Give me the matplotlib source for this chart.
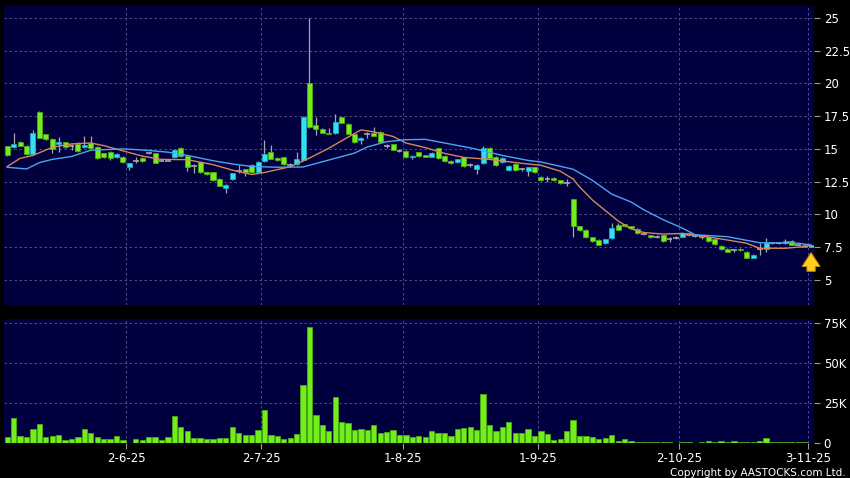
import matplotlib
matplotlib.use("Agg")
import matplotlib.pyplot as plt
import numpy as np

# daily candles, 6 May 2025 .. 3 Nov 2025 (trading-day index 0..125)
opens = [15.2, 15.15, 15.55, 15.25, 14.6, 17.85, 16.1, 15.75, 15.35, 15.5,
         15.2, 15.35, 15.15, 15.45, 15.15, 14.65, 14.8, 14.35, 14.4, 13.6,
         14.1, 14.3, 14.65, 14.65, 14.1, 14.1, 14.35, 15.1, 14.45, 13.7,
         14.0, 13.2, 13.2, 12.7, 12.0, 12.7, 13.35, 13.45, 13.8, 13.25,
         14.05, 14.8, 14.3, 14.35, 13.8, 13.85, 14.15, 20.05, 16.8, 16.5,
         16.25, 16.2, 17.4, 16.9, 16.1, 15.65, 16.1, 16.2, 16.3, 15.25,
         15.35, 14.85, 14.85, 14.35, 14.75, 14.5, 14.4, 15.05, 14.45, 14.1,
         14.0, 14.35, 13.8, 13.5, 13.9, 15.1, 14.4, 14.0, 13.4, 13.85,
         13.45, 13.35, 13.6, 12.85, 12.7, 12.8, 12.6, 12.4, 11.15, 9.1,
         8.85, 8.25, 8.05, 7.8, 8.2, 9.2, 9.25, 9.1, 8.9, 8.5,
         8.4, 8.3, 8.4, 8.15, 8.2, 8.3, 8.55, 8.35, 8.25, 8.3,
         8.15, 7.6, 7.4, 7.25, 7.4, 7.15, 6.7, 7.35, 7.4, 7.8,
         7.8, 7.8, 7.95, 7.65, 7.7, 7.52]
highs = [15.25, 16.2, 15.6, 15.3, 16.45, 17.9, 16.15, 15.8, 15.9, 15.55,
         15.4, 15.55, 15.95, 15.95, 15.2, 14.7, 14.85, 14.65, 14.45, 13.95,
         14.35, 14.35, 14.7, 14.7, 14.2, 14.15, 15.0, 15.15, 14.5, 13.85,
         14.05, 13.25, 13.25, 12.75, 12.3, 13.15, 13.75, 13.5, 13.85, 14.05,
         15.7, 15.3, 14.35, 14.4, 13.95, 14.8, 17.5, 24.95, 17.45, 16.6,
         16.6, 17.7, 17.45, 16.95, 16.15, 15.9, 16.3, 16.7, 16.35, 15.4,
         15.4, 15.0, 14.9, 14.5, 14.8, 14.55, 14.75, 15.1, 14.5, 14.15,
         14.25, 14.4, 13.9, 13.85, 15.25, 15.15, 14.45, 14.35, 13.75, 13.9,
         13.55, 13.65, 13.65, 12.9, 12.95, 12.85, 12.65, 12.7, 11.2, 9.15,
         8.9, 8.3, 8.1, 8.15, 9.35, 9.35, 9.3, 9.15, 8.95, 8.6,
         8.45, 8.4, 8.45, 8.3, 8.35, 8.65, 8.6, 8.45, 8.35, 8.35,
         8.2, 7.65, 7.45, 7.35, 7.45, 7.2, 6.95, 7.8, 8.2, 7.85,
         7.85, 8.1, 8.05, 7.7, 7.75, 7.7]
lows = [14.45, 15.1, 15.2, 14.55, 14.55, 15.8, 15.7, 14.7, 14.8, 15.05,
        14.9, 14.8, 15.1, 15.0, 14.2, 14.3, 14.15, 14.3, 13.95, 13.4,
        13.9, 14.0, 14.6, 13.9, 14.05, 14.05, 14.3, 14.4, 13.35, 13.15,
        13.15, 13.0, 12.55, 12.2, 11.65, 12.65, 13.15, 12.9, 13.15, 13.2,
        14.0, 14.2, 14.1, 13.8, 13.7, 13.8, 14.1, 16.6, 16.05, 16.2,
        16.1, 16.15, 16.95, 16.1, 15.45, 15.4, 15.85, 15.95, 15.45, 15.1,
        14.9, 14.75, 14.3, 14.2, 14.4, 14.35, 14.35, 14.25, 14.0, 13.85,
        13.95, 13.65, 13.6, 13.1, 13.85, 14.25, 13.7, 13.95, 13.35, 13.35,
        13.35, 12.9, 13.15, 12.55, 12.5, 12.55, 12.35, 12.15, 8.3, 8.75,
        8.2, 7.9, 7.65, 7.75, 8.15, 8.8, 9.05, 8.9, 8.5, 8.4,
        8.2, 8.2, 7.9, 7.9, 8.1, 8.25, 8.35, 8.25, 8.15, 7.9,
        7.7, 7.3, 7.1, 7.15, 7.2, 6.65, 6.65, 6.9, 7.1, 7.75,
        7.75, 7.75, 7.65, 7.6, 7.5, 7.5]
closes = [14.5, 15.4, 15.25, 14.6, 16.25, 15.85, 15.75, 15.0, 15.55, 15.15,
          15.2, 14.85, 15.3, 15.05, 14.3, 14.35, 14.3, 14.6, 14.0, 13.9,
          14.1, 14.05, 14.65, 13.95, 14.1, 14.1, 14.95, 14.45, 13.6, 13.7,
          13.2, 13.05, 12.6, 12.2, 12.25, 13.15, 13.35, 13.2, 13.2, 14.0,
          14.6, 14.2, 14.15, 13.85, 13.8, 14.2, 17.45, 16.7, 16.5, 16.25,
          16.15, 17.05, 17.0, 16.15, 15.5, 15.85, 16.1, 16.0, 15.5, 15.25,
          14.95, 14.85, 14.35, 14.45, 14.45, 14.4, 14.7, 14.3, 14.05, 13.9,
          14.2, 13.7, 13.8, 13.8, 15.05, 14.3, 13.75, 14.3, 13.7, 13.4,
          13.45, 13.6, 13.2, 12.6, 12.7, 12.6, 12.4, 12.4, 9.1, 8.8,
          8.25, 7.95, 7.7, 8.1, 9.0, 8.85, 9.1, 8.95, 8.55, 8.5,
          8.25, 8.3, 7.95, 8.15, 8.2, 8.55, 8.4, 8.35, 8.25, 7.95,
          7.75, 7.35, 7.15, 7.25, 7.25, 6.7, 6.9, 7.35, 7.8, 7.8,
          7.8, 7.95, 7.7, 7.65, 7.52, 7.68]
volume_k = [3.5, 15.4, 4.3, 3.5, 8.5, 11.8, 3.7, 4.5, 5.3, 2.0,
            2.4, 4.0, 9.0, 6.1, 4.0, 2.4, 2.4, 4.3, 2.0, 0.3,
            2.8, 1.8, 3.5, 3.9, 1.8, 3.5, 16.9, 10.2, 7.7, 3.3,
            3.3, 2.8, 2.8, 3.3, 3.3, 10.0, 6.1, 5.3, 4.7, 8.3,
            20.9, 4.9, 4.5, 2.8, 3.3, 5.7, 36.4, 72.2, 17.7, 11.2,
            7.7, 28.5, 13.0, 12.4, 8.1, 8.7, 8.1, 11.0, 6.1, 6.9,
            7.9, 5.1, 5.1, 4.0, 4.5, 4.0, 7.5, 6.2, 6.2, 4.2,
            9.0, 9.4, 10.0, 7.9, 30.4, 11.5, 7.5, 9.8, 13.1, 6.5,
            6.5, 8.5, 4.4, 7.5, 5.8, 2.1, 2.7, 7.3, 14.4, 4.2,
            4.6, 4.0, 2.7, 3.3, 5.0, 1.5, 2.3, 1.5, 0.8, 0.8,
            0.6, 0.6, 0.6, 0.4, 0.2, 0.6, 0.4, 0.2, 0.4, 1.0,
            0.8, 1.0, 0.8, 1.0, 0.4, 0.6, 0.6, 1.5, 2.9, 0.8,
            0.6, 0.6, 0.6, 0.4, 0.6, 0.1]

# moving averages (index, value)
ma10_idx = [0, 2, 4, 7, 10, 13, 15, 18, 21, 24, 28, 32, 35, 38, 40, 42, 44, 47,
            50, 53, 55, 57, 60, 62, 65, 68, 71, 75, 80, 83, 86, 88, 89, 91, 93,
            95, 97, 99, 102, 105, 108, 112, 115, 117, 121, 124, 125]
ma10 = [13.65, 14.28, 14.5, 15.12, 15.38, 15.45, 15.25, 14.85, 14.45, 14.2,
        14.18, 13.8, 13.38, 13.05, 13.2, 13.42, 13.64, 14.3, 15.05, 15.9,
        16.45, 16.3, 15.95, 15.45, 15.1, 14.66, 14.35, 14.2, 13.9, 13.75,
        13.3, 12.7, 12.1, 11.1, 10.3, 9.5, 8.9, 8.62, 8.5, 8.55,
        8.36, 8.05, 7.8, 7.42, 7.42, 7.55, 7.62]
ma20_idx = [0, 3, 5, 7, 10, 13, 18, 21, 25, 28, 32, 35, 38, 42, 46, 50, 54, 56,
            59, 62, 65, 68, 72, 77, 81, 83, 85, 88, 91, 94, 97, 99, 102, 105,
            107, 112, 117, 123, 125]
ma20 = [13.6, 13.47, 13.95, 14.2, 14.42, 14.9, 15.0, 14.92, 14.75, 14.5,
        14.1, 13.85, 13.66, 13.6, 13.62, 14.15, 14.68, 15.15, 15.55, 15.7,
        15.73, 15.45, 15.08, 14.5, 14.12, 14.0, 13.78, 13.45, 12.6, 11.55,
        10.95, 10.35, 9.6, 8.95, 8.45, 8.3, 7.84, 7.8, 7.67]

month_labels = ["2-6-25", "2-7-25", "1-8-25", "1-9-25", "2-10-25", "3-11-25"]
month_pos = [18.5, 39.5, 61.5, 82.5, 104.5, 124.5]
price_ticks = [5, 7.5, 10, 12.5, 15, 17.5, 20, 22.5, 25]
vol_ticks = [0, 25, 50, 75]
vol_labels = ["0", "25K", "50K", "75K"]

NAVY = "#00003e"
GRID = "#5c5c8c"
UP_FACE, UP_EDGE = "#33e0f0", "#20a8c8"
DN_FACE, DN_EDGE = "#72ee1c", "#4caa12"
WICK = "#a8a8a8"

fig = plt.figure(figsize=(8.5, 4.78), dpi=100, facecolor="black")
ax = fig.add_axes([0.0047, 0.3619, 0.9529, 0.6255], facecolor=NAVY)
axv = fig.add_axes([0.0047, 0.0722, 0.9529, 0.2594], facecolor=NAVY, sharex=ax)

x = np.arange(len(closes))
o = np.array(opens)
c = np.array(closes)
up = c > o
dn = c < o
flat = c == o

ax.vlines(x, lows, highs, color=WICK, lw=0.9, zorder=2)
bottoms = np.minimum(o, c)
heights = np.abs(c - o)
ax.bar(x[up], heights[up], bottom=bottoms[up], width=0.78,
       color=UP_FACE, edgecolor=UP_EDGE, lw=0.6, zorder=3)
ax.bar(x[dn], heights[dn], bottom=bottoms[dn], width=0.78,
       color=DN_FACE, edgecolor=DN_EDGE, lw=0.6, zorder=3)
ax.hlines(c[flat], x[flat] - 0.45, x[flat] + 0.45, color=WICK, lw=1.2, zorder=3)

ax.plot(ma10_idx, ma10, color="#d9855c", lw=1.0, zorder=4)
ax.plot(ma20_idx, ma20, color="#4aa6ee", lw=1.0, zorder=4)

# latest-price marker
ax.annotate("", xy=(x[-1], 7.3), xytext=(x[-1], 5.45),
            arrowprops=dict(arrowstyle="simple,head_width=1.3,head_length=1.0,tail_width=0.6",
                            fc="#ffcc22", ec="#c88400", lw=0.7), zorder=5)

axv.bar(x, volume_k, width=0.82, color=DN_FACE, edgecolor=DN_EDGE, lw=0.6, zorder=3)

ax.set_xlim(-0.5, 125.45)
ax.set_ylim(3.09, 25.9)
axv.set_ylim(-0.3, 77.1)

for a in (ax, axv):
    for s in a.spines.values():
        s.set_visible(False)
    a.yaxis.tick_right()
    a.set_xticks(month_pos)
    a.grid(True, color=GRID, lw=0.6, ls=(0, (3, 3)), zorder=0)
    a.tick_params(axis="y", colors="#9a9a9a", labelcolor="white", length=4,
                  width=0.8, pad=3, labelsize=8.5)

ax.set_yticks(price_ticks)
ax.set_yticklabels([f"{t:g}" for t in price_ticks])
ax.tick_params(axis="x", length=0, labelbottom=False)

axv.set_yticks(vol_ticks)
axv.set_yticklabels(vol_labels)
axv.set_xticklabels(month_labels)
axv.tick_params(axis="x", colors="#9a9a9a", labelcolor="white", length=4,
                width=0.8, pad=2, labelsize=8.5)

fig.text(0.995, 0.0, "Copyright by AASTOCKS.com Ltd.", color="white",
         fontsize=7.5, ha="right", va="bottom")

fig.savefig("out.png", dpi=100, facecolor="black")
